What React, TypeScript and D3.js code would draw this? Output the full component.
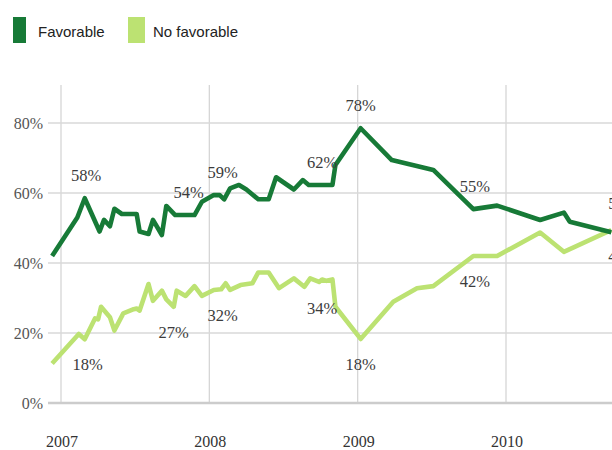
import React from "react";
import * as d3 from "d3";

// Favorable (dark green): [fractional year, percent]
const favDates = [2006.94, 2007.11, 2007.16, 2007.26, 2007.29, 2007.33, 2007.36, 2007.41, 2007.51, 2007.53, 2007.59, 2007.62, 2007.68, 2007.71, 2007.77, 2007.90, 2007.95, 2008.03, 2008.07, 2008.10, 2008.14, 2008.20, 2008.25, 2008.33, 2008.40, 2008.45, 2008.57, 2008.63, 2008.67, 2008.83, 2008.85, 2009.02, 2009.23, 2009.51, 2009.78, 2009.94, 2010.23, 2010.39, 2010.43, 2010.71];
const favValues = [42, 53, 58.5, 49, 52.3, 50.5, 55.5, 54, 54, 49, 48.3, 52.3, 48, 56.3, 53.7, 53.7, 57.5, 59.4, 59.4, 58.2, 61.3, 62.3, 61, 58.2, 58.2, 64.5, 61, 63.7, 62.3, 62.3, 68, 78.5, 69.4, 66.6, 55.4, 56.4, 52.3, 54.4, 51.8, 48.8];

// No favorable (light green)
const unfDates = [2006.94, 2007.12, 2007.16, 2007.23, 2007.25, 2007.27, 2007.33, 2007.36, 2007.42, 2007.49, 2007.51, 2007.53, 2007.59, 2007.62, 2007.68, 2007.71, 2007.76, 2007.78, 2007.84, 2007.90, 2007.95, 2008.03, 2008.08, 2008.11, 2008.14, 2008.21, 2008.29, 2008.33, 2008.40, 2008.47, 2008.57, 2008.64, 2008.68, 2008.74, 2008.76, 2008.79, 2008.83, 2008.85, 2009.02, 2009.24, 2009.40, 2009.51, 2009.78, 2009.94, 2010.23, 2010.39, 2010.71];
const unfValues = [11.3, 19.7, 18.2, 24.2, 23.9, 27.5, 24.5, 20.7, 25.6, 26.8, 27, 26.4, 34, 29.2, 32.1, 29.6, 27.5, 32.1, 30.6, 33.4, 30.6, 32.3, 32.5, 34.2, 32.3, 33.7, 34.2, 37.3, 37.3, 32.8, 35.6, 33.2, 35.6, 34.6, 35.3, 34.9, 35.3, 27.5, 18.3, 28.9, 32.8, 33.4, 42, 42, 48.7, 43.2, 49.4];

// Point labels
const favLabelDates = [2007.17, 2007.86, 2008.09, 2008.76, 2009.02, 2009.79];
const favLabelTexts = ["58%", "54%", "59%", "62%", "78%", "55%"];
const favLabelValues = [58.5, 53.7, 59.4, 62.3, 78.5, 55.4];
const unfLabelDates = [2007.18, 2007.76, 2008.09, 2008.76, 2009.02, 2009.79];
const unfLabelTexts = ["18%", "27%", "32%", "34%", "18%", "42%"];
const unfLabelValues = [18.2, 27.5, 32.3, 34.4, 18.3, 42];
const endLabelTexts = ["50%", "46%"];

const yTicks = [0, 20, 40, 60, 80];
const yearTicks = [2007, 2008, 2009, 2010];
const seriesNames = ["Favorable", "No favorable"];

const DARK = "#177a37";
const LIGHT = "#bce272";

export default function App() {
  const W = 612;
  const H = 450;
  const x = d3.scaleLinear().domain([2007, 2010]).range([61, 506]);
  const y = d3.scaleLinear().domain([0, 80]).range([403, 123]);

  const favData = favDates.map((d, i) => [d, favValues[i]] as [number, number]);
  const unfData = unfDates.map((d, i) => [d, unfValues[i]] as [number, number]);
  const line = d3
    .line<[number, number]>()
    .x((d) => x(d[0]))
    .y((d) => y(d[1]));

  const serif = "'Liberation Serif', 'Times New Roman', serif";
  const sans = "'Liberation Sans', Arial, sans-serif";
  const lastFav = favData[favData.length - 1];
  const lastUnf = unfData[unfData.length - 1];

  return (
    <svg
      width={W}
      height={H}
      style={{ position: "absolute", left: 0, top: 0, display: "block", background: "#fff" }}
    >
      {/* legend */}
      <rect x={13} y={17} width={13} height={26} fill={DARK} />
      <text x={38} y={37} fontFamily={sans} fontSize={15} fill="#222">
        {seriesNames[0]}
      </text>
      <rect x={128} y={17} width={17} height={26} fill={LIGHT} />
      <text x={153} y={37} fontFamily={sans} fontSize={15} fill="#222">
        {seriesNames[1]}
      </text>

      {/* vertical gridlines */}
      {yearTicks.map((t) => (
        <line key={"v" + t} x1={x(t)} x2={x(t)} y1={85} y2={y(0)} stroke="#d6d6d6" strokeWidth={1.3} />
      ))}
      {/* horizontal gridlines */}
      {yTicks.map((t) => (
        <line
          key={"h" + t}
          x1={48}
          x2={W}
          y1={y(t)}
          y2={y(t)}
          stroke={t === 0 ? "#cccccc" : "#d8d8d8"}
          strokeWidth={t === 0 ? 2.6 : 1.5}
        />
      ))}
      {/* y labels */}
      {yTicks.map((t) => (
        <text key={"yl" + t} x={43} y={y(t) + 5.5} textAnchor="end" fontFamily={serif} fontSize={16} fill="#555">
          {t + "%"}
        </text>
      ))}
      {/* x labels */}
      {yearTicks.map((t) => (
        <text key={"xl" + t} x={x(t) + 1} y={447} textAnchor="middle" fontFamily={serif} fontSize={16} fill="#333">
          {t}
        </text>
      ))}

      {/* lines */}
      <path d={line(unfData) || ""} fill="none" stroke={LIGHT} strokeWidth={4.6} strokeLinejoin="round" />
      <path d={line(favData) || ""} fill="none" stroke={DARK} strokeWidth={4.6} strokeLinejoin="round" />

      {/* labels */}
      {favLabelTexts.map((s, i) => (
        <text
          key={"fl" + i}
          x={x(favLabelDates[i])}
          y={y(favLabelValues[i]) - 17}
          textAnchor="middle"
          fontFamily={serif}
          fontSize={16.5}
          fill="#3c3c3c"
        >
          {s}
        </text>
      ))}
      {unfLabelTexts.map((s, i) => (
        <text
          key={"ul" + i}
          x={x(unfLabelDates[i])}
          y={y(unfLabelValues[i]) + 31}
          textAnchor="middle"
          fontFamily={serif}
          fontSize={16.5}
          fill="#3c3c3c"
        >
          {s}
        </text>
      ))}
      <text x={x(lastFav[0]) - 3} y={y(lastFav[1]) - 23} fontFamily={serif} fontSize={16.5} fill="#3c3c3c">
        {endLabelTexts[0]}
      </text>
      <text x={x(lastUnf[0]) - 3} y={y(lastUnf[1]) + 32} fontFamily={serif} fontSize={16.5} fill="#3c3c3c">
        {endLabelTexts[1]}
      </text>
    </svg>
  );
}
